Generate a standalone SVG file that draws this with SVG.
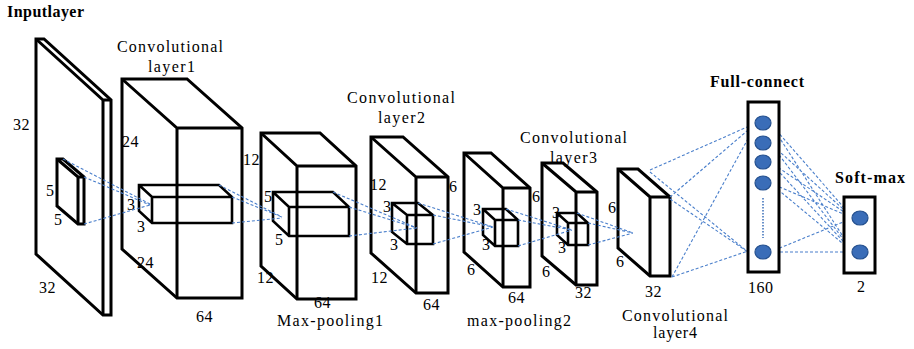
<svg xmlns="http://www.w3.org/2000/svg" width="914" height="349" viewBox="0 0 914 349">
<style>
.box{fill:#fff;stroke:#000;stroke-width:3;stroke-linejoin:miter}
.edge{fill:none;stroke:#000;stroke-width:3}
.inner{fill:none;stroke:#000;stroke-width:2.6}
.dl{fill:none;stroke:#4a7fcb;stroke-width:1.1;stroke-dasharray:3 2}
.node{fill:#3a6db8;stroke:#24508f;stroke-width:1.2}
.rect{fill:#fff;stroke:#000;stroke-width:3}
text{font-family:"Liberation Serif","Times New Roman",serif;font-size:16px;fill:#000}
.b{font-weight:bold}
.n{letter-spacing:0.5px}
</style>
<g id="input-layer">
<path class="box" d="M36,39 L44,39 L111,100 L111,315 L103,315 L36,254 Z"/>
<path class="edge" d="M36,39 L103,100 L111,100 M103,100 L103,315"/>
<path class="box" d="M57,159 L63,159 L84,177 L84,224 L78,224 L57,206 Z"/>
<path class="edge" d="M57,159 L78,177 L84,177 M78,177 L78,224"/>
<text class="b" x="7" y="17" textLength="77">Inputlayer</text>
<text class="n" x="13" y="130">32</text>
<text class="n" x="39" y="293">32</text>
<text x="46" y="196">5</text>
<text x="54" y="225">5</text>
</g>
<g id="conv1">
<path class="box" d="M122,79 L187,79 L242,128 L242,298 L177,298 L122,249 Z"/>
<path class="edge" d="M122,79 L177,128 L242,128 M177,128 L177,298"/>
<path class="inner" d="M139,185 L219,185 L232,197 L232,223 L152,223 L139,211 Z M139,185 L152,197 L232,197 M152,197 L152,223"/>
<text x="117" y="52" textLength="106">Convolutional</text>
<text x="148" y="72" textLength="47">layer1</text>
<text class="n" x="122" y="147">24</text>
<text class="n" x="137" y="268">24</text>
<text x="127" y="210">3</text>
<text x="137" y="232">3</text>
<text class="n" x="196" y="322">64</text>
</g>
<g id="maxpool1">
<path class="box" d="M261,133 L320,133 L356,166 L356,299 L297,299 L261,266 Z"/>
<path class="edge" d="M261,133 L297,166 L356,166 M297,166 L297,299"/>
<path class="inner" d="M273,192 L333,192 L349,207 L349,236 L289,236 L273,221 Z M273,192 L289,207 L349,207 M289,207 L289,236"/>
<text class="n" x="243" y="165">12</text>
<text x="264" y="202">5</text>
<text x="275" y="245">5</text>
<text class="n" x="257" y="283">12</text>
<text class="n" x="314" y="308">64</text>
<text x="277" y="326" textLength="106">Max-pooling1</text>
</g>
<g id="conv2">
<path class="box" d="M371,137 L403,137 L448,177 L448,293 L416,293 L371,253 Z"/>
<path class="edge" d="M371,137 L416,177 L448,177 M416,177 L416,293"/>
<path class="inner" d="M392,203 L418,203 L433,215 L433,244 L407,244 L392,232 Z M392,203 L407,215 L433,215 M407,215 L407,244"/>
<text x="347" y="103" textLength="108">Convolutional</text>
<text x="378" y="123" textLength="47">layer2</text>
<text class="n" x="370" y="190">12</text>
<text x="449" y="192">6</text>
<text x="383" y="212">3</text>
<text x="390" y="250">3</text>
<text class="n" x="371" y="283">12</text>
<text class="n" x="423" y="310">64</text>
</g>
<g id="maxpool2">
<path class="box" d="M464,153 L491,153 L530,188 L530,287 L503,287 L464,252 Z"/>
<path class="edge" d="M464,153 L503,188 L530,188 M503,188 L503,287"/>
<path class="inner" d="M483,209 L506,209 L518,220 L518,246 L495,246 L483,235 Z M483,209 L495,220 L518,220 M495,220 L495,246"/>
<text x="473" y="215">3</text>
<text x="482" y="250">3</text>
<text x="467" y="275">6</text>
<text x="532" y="202">6</text>
<text class="n" x="508" y="303">64</text>
<text x="467" y="326" textLength="104">max-pooling2</text>
</g>
<g id="conv3">
<path class="box" d="M542,163 L563,163 L597,192 L597,285 L576,285 L542,256 Z"/>
<path class="edge" d="M542,163 L576,192 L597,192 M576,192 L576,285"/>
<path class="inner" d="M557,213 L577,213 L588,223 L588,245 L568,245 L557,235 Z M557,213 L568,223 L588,223 M568,223 L568,245"/>
<text x="520" y="143" textLength="107">Convolutional</text>
<text x="550" y="163" textLength="47">layer3</text>
<text x="552" y="218">3</text>
<text x="558" y="253">3</text>
<text x="542" y="277">6</text>
<text class="n" x="575" y="298">32</text>
</g>
<g id="conv4">
<path class="box" d="M618,169 L638,169 L670,197 L670,276 L650,276 L618,248 Z"/>
<path class="edge" d="M618,169 L650,197 L670,197 M650,197 L650,276"/>
<text x="608" y="213">6</text>
<text x="616" y="267">6</text>
<text class="n" x="645" y="297">32</text>
<text x="622" y="321" textLength="106">Convolutional</text>
<text x="653" y="338" textLength="44">layer4</text>
</g>
<g id="connectors">
<path class="dl" d="M63,159 L150,204 M84,177 L150,205 M84,224 L150,205"/>
<path class="dl" d="M219,185 L282,217 M232,197 L282,217 M232,223 L282,218"/>
<path class="dl" d="M333,192 L417,228 M349,207 L417,228 M349,236 L417,228"/>
<path class="dl" d="M418,203 L493,227 M433,215 L493,227 M433,244 L493,227"/>
<path class="dl" d="M506,209 L572,230 M518,220 L572,230 M518,246 L572,230"/>
<path class="dl" d="M577,213 L633,233 M588,223 L633,233 M588,245 L633,233"/>
<path class="dl" d="M650,170 L754,124 M650,172 L748,252 M670,197 L754,125 M670,199 L748,252 M672,277 L755,126 M672,277 L748,251"/>
<path class="dl" d="M770,123 L853,218 M770,123 L853,252 M770,143 L853,218 M770,143 L853,252 M770,162 L853,218 M770,162 L853,252 M770,183 L853,218 M770,183 L853,252 M770,252 L853,218 M770,252 L853,252"/>
</g>
<g id="full-connect">
<rect class="rect" x="748" y="102" width="31" height="170"/>
<ellipse class="node" cx="763" cy="123" rx="8" ry="7"/>
<ellipse class="node" cx="763" cy="143" rx="8" ry="7"/>
<ellipse class="node" cx="763" cy="162" rx="8" ry="7"/>
<ellipse class="node" cx="763" cy="183" rx="8" ry="7"/>
<ellipse class="node" cx="763" cy="252" rx="8" ry="7"/>
<line x1="763" y1="198" x2="763" y2="238" stroke="#3a6db8" stroke-width="1.5" stroke-dasharray="1.5 1.5"/>
<text class="b" x="710" y="87" textLength="94">Full-connect</text>
<text class="n" x="748" y="293">160</text>
</g>
<g id="soft-max">
<rect class="rect" x="844" y="197" width="31" height="76"/>
<ellipse class="node" cx="860" cy="218" rx="8" ry="7"/>
<ellipse class="node" cx="860" cy="252" rx="8" ry="7"/>
<text class="b" x="835" y="183" textLength="70">Soft-max</text>
<text x="857" y="292">2</text>
</g>
</svg>
